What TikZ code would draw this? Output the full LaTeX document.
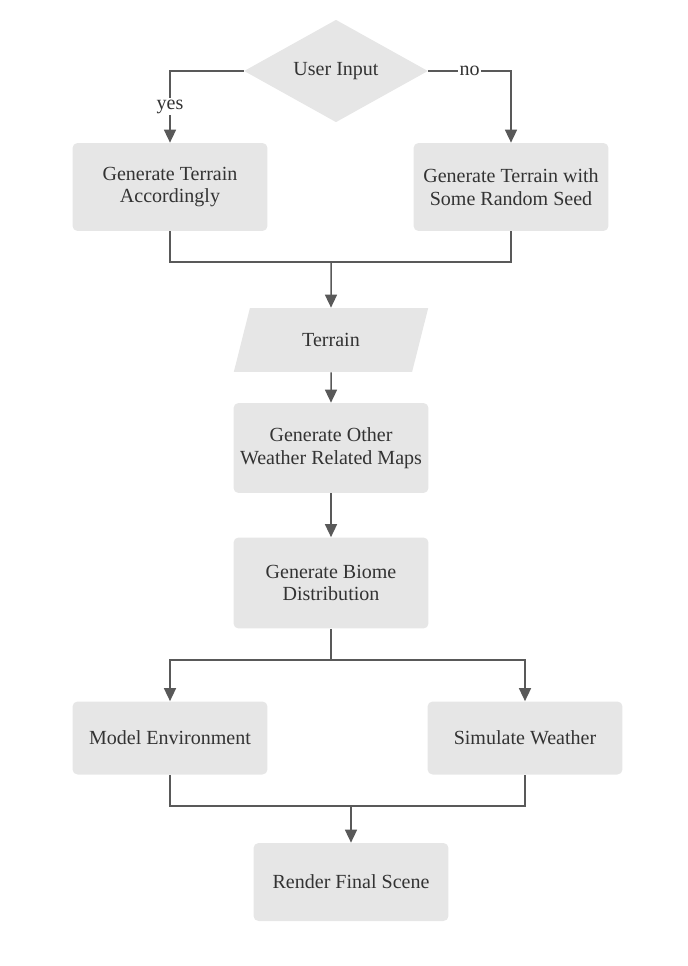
\documentclass[tikz,border=0pt]{standalone}
\usepackage{fontspec}
\setmainfont{Liberation Serif}
\usepackage{tikz}
\usetikzlibrary{arrows.meta,positioning,shapes.geometric}
\definecolor{boxfill}{HTML}{E6E6E6}
\definecolor{linegray}{HTML}{595959}
\definecolor{textgray}{HTML}{333333}

\begin{document}
\begin{tikzpicture}[x=0.02cm,y=-0.02cm,
  every node/.style={font=\fontsize{11.4}{13}\selectfont,text=textgray},
  stepbox/.style={rounded corners=0.1cm,fill=boxfill,align=center,minimum width=3.9cm,inner sep=0pt},
  decision/.style={diamond,fill=boxfill,minimum width=3.68cm,minimum height=1.9cm,inner sep=0pt},
  datashape/.style={trapezium,trapezium left angle=67,trapezium right angle=113,trapezium stretches=true,fill=boxfill,minimum width=3.9cm,minimum height=1.28cm,inner sep=0pt},
  link/.style={draw=linegray,line width=0.85pt},
  arr/.style={link,-{Triangle[length=0.26cm,width=0.24cm]}},
  lbl/.style={fill=white,inner sep=1pt}]
\useasboundingbox (0,0) rectangle (687,966);
\node (ui) at (336,71)[decision] {User Input};
\node (gta) at (170,187)[stepbox,minimum height=1.76cm] {Generate Terrain\\Accordingly};
\node (gtr) at (511,187)[stepbox,minimum height=1.76cm] {Generate Terrain with\\Some Random Seed};
\node (ter) at (331,340)[datashape] {Terrain};
\node (gom) at (331,448)[stepbox,minimum height=1.8cm] {Generate Other\\Weather Related Maps};
\node (gbd) at (331,583)[stepbox,minimum height=1.82cm] {Generate Biome\\Distribution};
\node (me) at (170,738)[stepbox,minimum height=1.46cm] {Model Environment};
\node (sw) at (525,738)[stepbox,minimum height=1.46cm] {Simulate Weather};
\node (rfs) at (351,882)[stepbox,minimum height=1.56cm] {Render Final Scene};
\coordinate (m1) at (331,262);
\coordinate (m2) at (331,660);
\coordinate (m3) at (351,806);
% decision
\draw[arr] (ui.west) -| node[lbl,pos=0.75] {yes} (gta.north);
\draw[arr] (ui.east) -| node[lbl,pos=0.25] {no} (gtr.north);
% merge to terrain
\draw[link] (gta.south) |- (m1) -| (gtr.south);
\draw[arr] (m1) -- (ter.north);
\draw[arr] (ter.south) -- (gom.north);
\draw[arr] (gom.south) -- (gbd.north);
% split
\draw[link] (gbd.south) -- (m2);
\draw[arr] (m2) -| (me.north);
\draw[arr] (m2) -| (sw.north);
% merge to render
\draw[link] (me.south) |- (m3) -| (sw.south);
\draw[arr] (m3) -- (rfs.north);
\end{tikzpicture}
\end{document}
